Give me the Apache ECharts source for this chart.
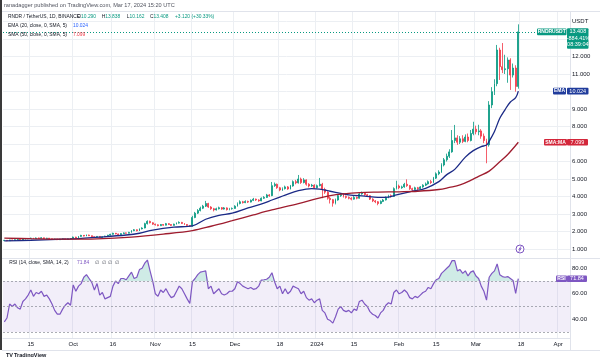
<!DOCTYPE html>
<html><head><meta charset="utf-8">
<script src="https://cdn.jsdelivr.net/npm/echarts@6/dist/echarts.min.js"></script>
<style>html,body{margin:0;padding:0;background:#fff}#c{width:600px;height:357px}</style>
</head><body><div id="c"></div>
<script>
// ---------- data ----------
const startDate = [2023, 8, 5];          // first category day (UTC y, m0, d)
const dayCount = 214;                     // Sep 5 2023 .. Apr 5 2024
const tickDates  = ['2023-09-15','2023-10-01','2023-10-16','2023-11-01','2023-11-15','2023-12-01','2023-12-18','2024-01-01','2024-01-15','2024-02-01','2024-02-15','2024-03-01','2024-03-18','2024-04-01'];
const tickLabels = ['15','Oct','16','Nov','15','Dec','18','2024','15','Feb','15','Mar','18','Apr'];
const priceTicks = [1,2,3,4,5,6,8,9,11,12];
const rsiTicks = [40,60,80];
const lastPrice = 13.408;
const emaLast = 10.024;
const smaLast = 7.099;
const rsiLast = 71.84;

// daily candles: [open, close, low, high]
const candles = [
 [1.48,1.50,1.46,1.52],[1.50,1.47,1.45,1.51],[1.47,1.52,1.46,1.53],[1.52,1.49,1.48,1.54],[1.49,1.53,1.48,1.55],
 [1.53,1.55,1.51,1.57],[1.55,1.52,1.50,1.56],[1.52,1.56,1.51,1.58],[1.56,1.58,1.54,1.60],[1.58,1.60,1.56,1.62],
 [1.60,1.62,1.58,1.65],[1.62,1.59,1.57,1.64],[1.59,1.63,1.58,1.66],[1.63,1.61,1.59,1.65],[1.61,1.64,1.60,1.67],
 [1.64,1.60,1.58,1.65],[1.60,1.62,1.58,1.64],[1.62,1.58,1.56,1.63],[1.58,1.55,1.53,1.59],[1.55,1.57,1.54,1.59],
 [1.57,1.53,1.52,1.58],[1.53,1.56,1.52,1.58],[1.56,1.58,1.55,1.60],[1.58,1.55,1.54,1.59],[1.55,1.58,1.54,1.60],
 [1.58,1.60,1.57,1.62],[1.60,1.68,1.59,1.71],[1.68,1.64,1.62,1.70],[1.64,1.72,1.63,1.74],[1.72,1.78,1.70,1.81],
 [1.78,1.74,1.72,1.80],[1.74,1.80,1.73,1.83],[1.80,1.76,1.74,1.82],[1.76,1.70,1.68,1.77],[1.70,1.67,1.65,1.72],
 [1.67,1.72,1.66,1.74],[1.72,1.66,1.64,1.73],[1.66,1.70,1.65,1.72],[1.70,1.74,1.69,1.76],[1.74,1.79,1.73,1.81],
 [1.79,1.84,1.77,1.87],[1.84,1.90,1.82,1.93],[1.90,1.86,1.84,1.92],[1.86,1.82,1.80,1.88],[1.82,1.88,1.81,1.90],
 [1.88,1.92,1.86,1.95],[1.92,1.90,1.88,1.94],[1.90,1.95,1.89,1.98],[1.95,2.05,1.93,2.08],[2.05,2.10,2.02,2.14],
 [2.10,2.04,2.01,2.12],[2.04,2.15,2.03,2.18],[2.15,2.20,2.12,2.24],[2.20,2.45,2.18,2.50],[2.45,2.58,2.40,2.64],
 [2.58,2.50,2.46,2.62],[2.50,2.42,2.38,2.53],[2.42,2.38,2.34,2.45],[2.38,2.33,2.30,2.41],[2.33,2.40,2.31,2.43],
 [2.40,2.36,2.33,2.42],[2.36,2.45,2.35,2.49],[2.45,2.40,2.37,2.48],[2.40,2.35,2.32,2.42],[2.35,2.42,2.34,2.45],
 [2.42,2.48,2.40,2.52],[2.48,2.52,2.45,2.58],[2.52,2.46,2.43,2.55],[2.46,2.40,2.37,2.48],[2.40,2.35,2.32,2.42],
 [2.35,2.30,2.26,2.37],[2.30,2.80,2.28,2.90],[2.80,3.05,2.76,3.12],[3.05,3.20,3.00,3.28],[3.20,3.33,3.15,3.42],
 [3.33,3.45,3.28,3.52],[3.45,3.60,3.40,3.75],[3.60,3.40,3.35,3.64],[3.40,3.30,3.24,3.45],[3.30,3.23,3.15,3.35],
 [3.23,3.30,3.20,3.36],[3.30,3.36,3.26,3.42],[3.36,3.28,3.24,3.40],[3.28,3.35,3.25,3.40],[3.35,3.25,3.20,3.38],
 [3.25,3.30,3.21,3.35],[3.30,3.32,3.25,3.37],[3.32,3.45,3.30,3.50],[3.45,3.60,3.42,3.66],[3.60,3.70,3.55,3.78],
 [3.70,3.65,3.60,3.75],[3.65,3.72,3.62,3.78],[3.72,3.68,3.63,3.76],[3.68,3.78,3.66,3.83],[3.78,3.85,3.74,3.92],
 [3.85,3.80,3.75,3.88],[3.80,3.75,3.70,3.84],[3.75,3.90,3.73,3.95],[3.90,3.95,3.86,4.02],[3.95,4.09,3.92,4.15],
 [4.09,4.05,3.98,4.14],[4.05,4.62,4.02,4.83],[4.62,4.70,4.55,4.80],[4.70,4.50,4.44,4.74],[4.50,4.37,4.30,4.55],
 [4.37,4.45,4.32,4.52],[4.45,4.55,4.40,4.62],[4.55,4.43,4.38,4.60],[4.43,4.60,4.40,4.66],[4.60,4.85,4.56,4.92],
 [4.85,4.78,4.70,4.95],[4.78,5.00,4.74,5.23],[5.00,4.80,4.72,5.08],[4.80,4.95,4.75,5.05],[4.95,4.70,4.62,4.98],
 [4.70,4.60,4.52,4.76],[4.60,4.65,4.55,4.72],[4.65,4.50,4.45,4.70],[4.50,4.62,4.46,4.68],[4.62,4.70,4.58,5.06],
 [4.70,4.40,3.90,4.78],[4.40,4.25,4.15,4.50],[4.25,3.90,3.82,4.30],[3.90,3.82,3.60,3.98],[3.82,3.62,3.42,3.86],
 [3.62,3.80,3.55,3.88],[3.80,4.05,3.76,4.12],[4.05,4.12,3.98,4.20],[4.12,4.00,3.94,4.18],[4.00,3.95,3.88,4.06],
 [3.95,3.90,3.84,4.00],[3.90,3.85,3.78,3.96],[3.85,3.95,3.82,4.02],[3.95,3.90,3.84,4.00],[3.90,4.15,3.88,4.22],
 [4.15,4.20,4.10,4.28],[4.20,4.10,4.04,4.24],[4.10,4.05,3.98,4.15],[4.05,3.85,3.80,4.08],[3.85,3.75,3.68,3.90],
 [3.75,3.70,3.62,3.80],[3.70,3.60,3.50,3.74],[3.60,3.72,3.56,3.78],[3.72,3.80,3.68,3.86],[3.80,3.95,3.77,4.00],
 [3.95,4.05,3.90,4.10],[4.05,4.00,3.94,4.12],[4.00,4.45,3.98,4.52],[4.45,4.60,4.40,4.90],[4.60,4.50,4.42,4.68],
 [4.50,4.55,4.44,4.62],[4.55,4.70,4.50,4.78],[4.70,4.62,4.55,4.98],[4.62,4.45,4.38,4.66],[4.45,4.40,4.32,4.50],
 [4.40,4.50,4.36,4.56],[4.50,4.45,4.38,4.55],[4.45,4.55,4.42,4.60],[4.55,4.65,4.50,4.70],[4.65,4.72,4.60,4.80],
 [4.72,4.85,4.68,4.92],[4.85,4.80,4.72,4.95],[4.80,5.05,4.76,5.12],[5.05,5.30,5.00,5.38],[5.30,5.40,5.22,5.50],
 [5.40,5.80,5.35,5.90],[5.80,6.10,5.72,6.20],[6.10,6.30,6.00,6.45],[6.30,6.55,6.20,6.70],[6.55,7.20,6.50,7.80],
 [7.20,7.35,7.05,8.09],[7.35,7.10,6.95,7.50],[7.10,7.30,7.00,7.45],[7.30,7.15,7.05,7.50],[7.15,7.40,7.10,7.55],
 [7.40,7.20,7.10,7.60],[7.20,7.60,7.15,7.80],[7.60,7.85,7.50,8.27],[7.85,7.70,7.55,8.05],[7.70,7.75,7.50,8.10],
 [7.75,7.45,7.30,7.85],[7.45,7.20,7.05,7.60],[7.20,6.95,5.90,7.30],[6.95,9.23,6.85,9.45],[9.23,9.99,9.05,10.25],
 [9.99,10.45,9.80,10.70],[10.45,12.37,10.30,12.66],[12.37,11.42,10.66,12.50],[11.42,11.25,11.05,12.77],[11.25,11.30,11.00,12.10],
 [11.30,11.80,10.50,11.95],[11.80,10.94,10.09,11.90],[10.94,11.34,10.80,11.60],[11.34,10.29,9.99,11.50],[10.29,13.408,10.162,13.838]
];

// EMA(20): [day index, value]
const emaPoints = [[0,1.46],[10,1.50],[20,1.55],[26,1.58],[36,1.68],[46,1.80],[51,1.90],[56,2.08],[64,2.25],[71,2.32],[76,2.70],[81,2.92],[86,3.05],[92,3.35],[98,3.62],[101,3.80],[106,4.08],[111,4.33],[116,4.45],[119,4.42],[123,4.30],[127,4.18],[130,4.09],[136,4.02],[141,3.95],[145,3.97],[148,4.09],[153,4.27],[159,4.47],[164,4.85],[167,5.25],[170,5.55],[174,6.25],[177,6.62],[180,6.85],[182,6.94],[183,7.16],[185,7.72],[187,8.47],[189,8.97],[191,9.40],[193,9.65],[194,10.024]];
// SMA(50)
const smaPoints = [[0,1.62],[10,1.59],[23,1.56],[35,1.58],[48,1.68],[60,1.85],[71,2.05],[78,2.30],[86,2.62],[94,2.95],[101,3.23],[111,3.59],[118,3.88],[123,4.05],[128,4.15],[134,4.22],[141,4.25],[149,4.27],[156,4.30],[164,4.40],[168,4.52],[172,4.66],[176,4.92],[179,5.15],[183,5.45],[187,5.98],[190,6.40],[194,7.099]];
// RSI(14) daily
const rsiValues = [
 38,41,52,50,52,49,48,54,56,59, 63,58,61,60,62,58,59,56,52,47,
 44,44,48,51,53,51,67,62,66,68, 73,75,72,69,63,68,59,61,56,57,
 58,66,70,68,72,72,71,74,77,72, 73,79,80,84,86.5,78,70,60,58,63,
 61,64,60,57,58,62,66,64,60,56, 52.5,69.5,72,75,77,77.5,78,64,66,60,
 62,64,60,59,60,62,62,64,69.5,68, 66,65,64,65,63.5,64,66,70.8,71,71.4,
 73,76.5,69.5,64,66,60,64,60,62,66, 65,64,60,62,57,55,56,53,55,56,
 47,45,40,39,37,42,48,50,47,46, 47,45,48,47,54,55,52,50,46,44,
 43,41,45,47,51,53,52,61,63,60, 61,63,61,57,56,58,57,59,61,62,
 65,64,68,71,72,76,78,80,82,86, 86,78,79,76,78,74,77,78,74,72,
 66,62,55,73,76,78,83.4,75,73.5,73, 73.5,72,70.5,60.4,71.84
];

// ---------- build ----------
const dates = [];
const d0 = Date.UTC(startDate[0], startDate[1], startDate[2]);
for (let i = 0; i < dayCount; i++) dates.push(new Date(d0 + i * 86400000).toISOString().slice(0, 10));
function sparse(points) { const a = new Array(candles.length).fill(null); points.forEach(p => a[p[0]] = p[1]); return a; }
const emaData = sparse(emaPoints);
const smaData = sparse(smaPoints);
const obData = rsiValues.map(v => Math.max(v, 70));
const isTick = (i, v) => tickDates.indexOf(v) >= 0;
const gridLine = '#eceff3';
const splitColors = []; for (let k = 0; k <= 15; k++) splitColors.push((k === 0 || k === 15) ? 'rgba(0,0,0,0)' : gridLine);
const FONT = '"Liberation Sans", Arial, sans-serif';
const TEAL = '#089981', RED = '#f23645', PURPLE = '#7e57c2';
const LF = 4.9; // legend font size

const chart = echarts.init(document.getElementById('c'), null, {renderer: 'canvas'});
const catAxis = (g, extra) => Object.assign({
  type: 'category', gridIndex: g, data: dates, boundaryGap: true,
  axisLine: {show: false}, axisTick: {show: false}, axisLabel: {show: false},
  splitLine: {show: true, interval: isTick, lineStyle: {color: gridLine, width: 1}}
}, extra || {});

chart.setOption({
  animation: false,
  textStyle: {fontFamily: FONT},
  grid: [
    {left: 3, right: 30, top: 4, height: 262.5},
    {left: 3, right: 30, top: 255.55, height: 89.25},
    {left: 3, right: 30, top: 337, height: 1}
  ],
  xAxis: [
    catAxis(0), catAxis(1),
    catAxis(2, {z: 20, splitLine: {show: false}, axisLine: {show: true, lineStyle: {color: '#e0e3eb'}},
      axisLabel: {show: true, interval: isTick, margin: 3, fontSize: 6, color: '#131722',
        formatter: v => { const k = tickDates.indexOf(v); return k >= 0 ? tickLabels[k] : ''; }}})
  ],
  yAxis: [
    {type: 'value', gridIndex: 0, position: 'right', min: 0, max: 15, interval: 1,
      axisLine: {show: false}, axisTick: {show: false},
      splitLine: {show: true, lineStyle: {color: splitColors, width: 1}},
      axisLabel: {margin: 2, fontSize: 6, color: '#131722',
        formatter: v => priceTicks.indexOf(v) >= 0 ? v.toFixed(3) : (v === 14 ? 'USDT' : '')}},
    {type: 'value', gridIndex: 1, position: 'right', min: 20, max: 90, interval: 10,
      axisLine: {show: false}, axisTick: {show: false}, splitLine: {show: false},
      axisLabel: {margin: 2, fontSize: 6, color: '#131722',
        formatter: v => rsiTicks.indexOf(v) >= 0 ? v.toFixed(2) : ''}},
    {type: 'value', gridIndex: 2, show: false}
  ],
  series: [
    {type: 'candlestick', name: 'RNDR', xAxisIndex: 0, yAxisIndex: 0, data: candles, barWidth: 1.4,
      itemStyle: {color: TEAL, color0: RED, borderColor: TEAL, borderColor0: RED, borderWidth: 0.8},
      markLine: {silent: true, symbol: 'none', label: {show: false},
        lineStyle: {color: TEAL, type: [1, 2], width: 1}, data: [{yAxis: lastPrice}]}},
    {type: 'line', name: 'EMA', xAxisIndex: 0, yAxisIndex: 0, data: emaData, connectNulls: true,
      smooth: 0.35, showSymbol: false, lineStyle: {color: '#1b2a86', width: 1.3}, z: 3},
    {type: 'line', name: 'SMA', xAxisIndex: 0, yAxisIndex: 0, data: smaData, connectNulls: true,
      smooth: 0.35, showSymbol: false, lineStyle: {color: '#9e1c2e', width: 1.3}, z: 3},
    {type: 'line', name: 'OB', xAxisIndex: 1, yAxisIndex: 1, data: obData, showSymbol: false,
      lineStyle: {width: 0}, areaStyle: {origin: 70, color: 'rgba(8,153,129,0.28)'}, z: 1},
    {type: 'line', name: 'RSI', xAxisIndex: 1, yAxisIndex: 1, data: rsiValues, showSymbol: false,
      lineStyle: {color: PURPLE, width: 1.2}, z: 3,
      markArea: {silent: true, itemStyle: {color: 'rgba(126,87,194,0.1)'}, data: [[{yAxis: 30}, {yAxis: 70}]]},
      markLine: {silent: true, symbol: 'none', label: {show: false},
        lineStyle: {color: '#9598a1', type: [2, 2], width: 0.8}, data: [{yAxis: 70}, {yAxis: 50}, {yAxis: 30}]}}
  ]
});

// ---------- overlays ----------
const py = v => chart.convertToPixel({yAxisIndex: 0}, v);
const ry = v => chart.convertToPixel({yAxisIndex: 1}, v);
function txt(x, y, text, fill, size, o) {
  o = o || {};
  return {type: 'text', z: 12, silent: true, style: {x, y, text, fill,
    font: (o.weight || 'normal') + ' ' + size + 'px ' + FONT,
    textVerticalAlign: 'middle', textAlign: o.align || 'left', rich: o.rich}};
}
function box(x, y, w, h, fill) { return {type: 'rect', z: 11, silent: true, shape: {x, y, width: w, height: h, r: 1}, style: {fill}}; }
function line(x1, y1, x2, y2, c) { return {type: 'line', z: 11, silent: true, shape: {x1, y1, x2, y2}, style: {stroke: c, lineWidth: 1}}; }
function tag(cy, label, lx, lw, value, vx, vw, color) {
  return [box(lx, cy - 3.3, lw, 6.6, color), txt(lx + lw / 2, cy, label, '#fff', 5, {align: 'center', weight: 'bold'}),
          box(vx, cy - 3.3, vw, 6.6, color), txt(vx + vw / 2, cy, value, '#fff', 5.5, {align: 'center'})];
}
const G = [];
G.push({type: 'rect', z: 10, silent: true, shape: {x: 0, y: 0, width: 600, height: 11}, style: {fill: '#fff'}});
G.push({type: 'rect', z: 10, silent: true, shape: {x: 0, y: 338.5, width: 570, height: 19}, style: {fill: '#fff'}});
G.push(line(2, 11.5, 600, 11.5, '#e0e3eb'));
G.push(line(2, 258.5, 600, 258.5, '#e0e3eb'));
G.push(line(2, 350.5, 600, 350.5, '#e0e3eb'));
G.push(line(570.5, 11.5, 570.5, 350.5, '#e0e3eb'));
G.push({type: 'rect', z: 12, silent: true, shape: {x: 0, y: 0, width: 2, height: 350}, style: {fill: '#3a3a3a'}});
// header texts
G.push(txt(4, 5.8, 'ranadagger published on TradingView.com, Mar 17, 2024 15:20 UTC', '#50535e', 5.6));
G.push(txt(8, 16.3, 'RNDR / TetherUS, 1D, BINANCE', '#131722', LF));
const rich = {k: {fill: '#131722', font: LF + 'px ' + FONT}, v: {fill: TEAL, font: LF + 'px ' + FONT}};
[['O', '10.290', 77.3], ['H', '13.838', 101.7], ['L', '10.162', 126.7], ['C', '13.408', 150]].forEach(t => {
  G.push(txt(t[2], 16.3, '{k|' + t[0] + '}{v|' + t[1] + '}', TEAL, LF, {rich}));
});
G.push(txt(175, 16.3, '+3.120 (+30.33%)', TEAL, LF));
G.push(txt(8, 25.7, 'EMA (20, close, 0, SMA, 5)', '#131722', LF));
G.push(txt(73, 25.7, emaLast.toFixed(3), '#2962ff', LF));
G.push(txt(8, 34.3, 'SMA (50, close, 0, SMA, 5)', '#131722', LF));
G.push(txt(73, 34.3, smaLast.toFixed(3), RED, LF));
G.push(txt(9.3, 262.8, 'RSI (14, close, SMA, 14, 2)', '#131722', LF));
G.push(txt(77, 262.8, rsiLast.toFixed(2), PURPLE, LF));
G.push(txt(95, 262.8, '\u2205  \u2205  \u2205  \u2205', '#50535e', LF));
// right side tags
const cyP = py(lastPrice);
G.push(box(537, cyP - 3.3, 29.5, 6.6, TEAL), txt(551.7, cyP, 'RNDRUSDT', '#fff', 5, {align: 'center', weight: 'bold'}));
G.push(box(567, cyP - 3.5, 21.5, 20.5, TEAL));
G.push(txt(577.8, cyP, lastPrice.toFixed(3), '#fff', 5.5, {align: 'center'}));
G.push(txt(577.8, cyP + 6.2, '+884.41%', '#fff', 5.5, {align: 'center'}));
G.push(txt(577.8, cyP + 12.4, '08:39:04', '#fff', 5.5, {align: 'center'}));
tag(py(emaLast), 'EMA', 553, 13, emaLast.toFixed(3), 567, 21.5, '#203c9c').forEach(e => G.push(e));
tag(py(smaLast), 'SMA:MA', 544, 23, smaLast.toFixed(3), 567, 21, '#d3263a').forEach(e => G.push(e));
tag(ry(rsiLast), 'RSI', 556, 11, rsiLast.toFixed(2), 567, 20, PURPLE).forEach(e => G.push(e));
// lightning badge
G.push({type: 'circle', z: 11, silent: true, shape: {cx: 520, cy: 249, r: 4}, style: {fill: '#fff', stroke: PURPLE, lineWidth: 1}});
G.push({type: 'polyline', z: 12, silent: true, shape: {points: [[521.2, 246.2], [518.8, 249.6], [521.2, 248.4], [518.8, 251.8]]}, style: {stroke: PURPLE, lineWidth: 0.9, fill: null}});
// logo
G.push(txt(6, 355, 'TV', '#131722', 5.5, {weight: 'bold'}));
G.push(txt(14, 355, 'TradingView', '#131722', 5.5, {weight: 'bold'}));
chart.setOption({graphic: G});
</script></body></html>
